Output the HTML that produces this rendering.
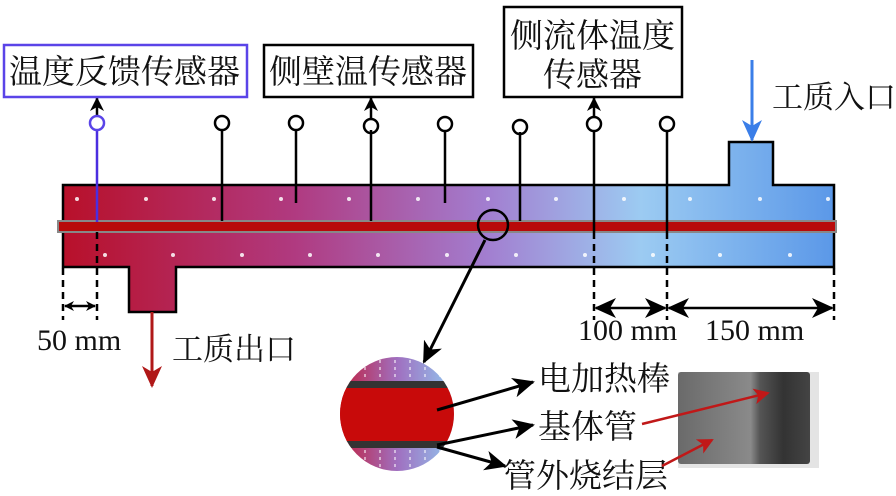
<!DOCTYPE html>
<html><head><meta charset="utf-8"><style>
html,body{margin:0;padding:0;background:#fff;}
svg{display:block;}
text{font-family:"Liberation Serif","Noto Serif CJK SC","Noto Sans CJK SC",serif;fill:#111;}
</style></head><body>
<svg width="896" height="496" viewBox="0 0 896 496" xmlns="http://www.w3.org/2000/svg">
<defs>
<linearGradient id="g" x1="63" y1="0" x2="834" y2="0" gradientUnits="userSpaceOnUse">
<stop offset="0" stop-color="#b8102a"/>
<stop offset="0.3" stop-color="#b03a80"/>
<stop offset="0.55" stop-color="#a27ed0"/>
<stop offset="0.75" stop-color="#9ccbf2"/>
<stop offset="1" stop-color="#5b98e8"/>
</linearGradient>
<linearGradient id="cg" x1="340" y1="0" x2="455" y2="0" gradientUnits="userSpaceOnUse">
<stop offset="0" stop-color="#c02040"/><stop offset="0.5" stop-color="#a070c0"/><stop offset="1" stop-color="#90c8f0"/>
</linearGradient>
<linearGradient id="ph" x1="0" y1="0" x2="1" y2="0">
<stop offset="0" stop-color="#6a6a6a"/><stop offset="0.55" stop-color="#8a8a8a"/><stop offset="0.62" stop-color="#555"/><stop offset="0.8" stop-color="#333"/><stop offset="1" stop-color="#444"/>
</linearGradient>
<marker id="ab" markerWidth="10" markerHeight="10" refX="9" refY="5" orient="auto" markerUnits="userSpaceOnUse"><path d="M0,0 L10,5 L0,10 L3,5z" fill="#000"/></marker>
<marker id="am" markerWidth="14" markerHeight="14" refX="13" refY="7" orient="auto" markerUnits="userSpaceOnUse"><path d="M0,0 L14,7 L0,14 L4,7z" fill="#000"/></marker>
<marker id="abig" markerWidth="22" markerHeight="20" refX="20" refY="10" orient="auto" markerUnits="userSpaceOnUse"><path d="M0,0 L22,10 L0,20 L6,10z" fill="#000"/></marker>
<marker id="ar" markerWidth="22" markerHeight="20" refX="20" refY="10" orient="auto" markerUnits="userSpaceOnUse"><path d="M0,0 L22,10 L0,20 L6,10z" fill="#b01818"/></marker>
<marker id="abl" markerWidth="22" markerHeight="20" refX="20" refY="10" orient="auto" markerUnits="userSpaceOnUse"><path d="M0,0 L22,10 L0,20 L6,10z" fill="#3a7ee8"/></marker>
<marker id="arr" markerWidth="16" markerHeight="16" refX="14" refY="8" orient="auto" markerUnits="userSpaceOnUse"><path d="M0,0 L16,8 L0,16 L4,8z" fill="#c01818"/></marker>
</defs>

<path d="M63,185 L729,185 L729,142 L773,142 L773,185 L834,185 L834,267 L176,267 L176,312 L129,312 L129,267 L63,267 Z" fill="url(#g)" stroke="#000" stroke-width="2.5"/>
<g fill="#fff" opacity="0.85">
<circle cx="77" cy="199" r="2"/><circle cx="146" cy="199" r="2"/><circle cx="214" cy="199" r="2"/><circle cx="281" cy="199" r="2"/><circle cx="349" cy="199" r="2"/><circle cx="418" cy="199" r="2"/><circle cx="488" cy="199" r="2"/><circle cx="556" cy="199" r="2"/><circle cx="624" cy="199" r="2"/><circle cx="690" cy="199" r="2"/><circle cx="760" cy="199" r="2"/><circle cx="828" cy="199" r="2"/>
<circle cx="105" cy="255" r="2"/><circle cx="173" cy="255" r="2"/><circle cx="242" cy="255" r="2"/><circle cx="310" cy="255" r="2"/><circle cx="378" cy="255" r="2"/><circle cx="447" cy="255" r="2"/><circle cx="516" cy="255" r="2"/><circle cx="585" cy="255" r="2"/><circle cx="653" cy="255" r="2"/><circle cx="720" cy="255" r="2"/><circle cx="790" cy="255" r="2"/>
</g>
<rect x="58" y="221" width="778" height="11" fill="#b80a0a" stroke="#888" stroke-width="2"/>

<g stroke="#000" stroke-width="2.5" fill="none">
<line x1="222" y1="130" x2="222" y2="221"/>
<line x1="296" y1="130" x2="296" y2="203"/>
<line x1="371" y1="130" x2="371" y2="221"/>
<line x1="445" y1="130" x2="445" y2="203"/>
<line x1="520" y1="132" x2="520" y2="221"/>
<line x1="594" y1="130" x2="594" y2="232"/>
<line x1="667" y1="130" x2="667" y2="232"/>
<circle cx="222" cy="123" r="7"/><circle cx="296" cy="123" r="7"/><circle cx="371" cy="126" r="7"/><circle cx="445" cy="124" r="7"/><circle cx="520" cy="127" r="7"/><circle cx="594" cy="124" r="7"/><circle cx="667" cy="124" r="7"/>
<line x1="371" y1="118" x2="371" y2="98" marker-end="url(#am)"/>
<line x1="594" y1="117" x2="594" y2="98" marker-end="url(#am)"/>
<line x1="97" y1="117" x2="97" y2="98" marker-end="url(#am)"/>
</g>
<line x1="97" y1="130" x2="97" y2="222" stroke="#4a2ee0" stroke-width="2.5"/>
<circle cx="97" cy="123" r="7" fill="none" stroke="#5a44e8" stroke-width="2.5"/>

<g stroke="#000" stroke-width="2.5" stroke-dasharray="7,5">
<line x1="97" y1="232" x2="97" y2="320"/>
<line x1="63" y1="268" x2="63" y2="320"/>
<line x1="594" y1="232" x2="594" y2="320"/>
<line x1="667" y1="232" x2="667" y2="320"/>
<line x1="834" y1="268" x2="834" y2="320"/>
</g>
<g stroke="#000" stroke-width="2.5">
<line x1="80" y1="306" x2="65" y2="306" marker-end="url(#ab)"/><line x1="80" y1="306" x2="95" y2="306" marker-end="url(#ab)"/>
<line x1="630" y1="308" x2="596" y2="308" marker-end="url(#abig)"/><line x1="630" y1="308" x2="665" y2="308" marker-end="url(#abig)"/>
<line x1="750" y1="308" x2="669" y2="308" marker-end="url(#abig)"/><line x1="750" y1="308" x2="832" y2="308" marker-end="url(#abig)"/>
</g>

<line x1="752" y1="60" x2="752" y2="140" stroke="#3a7ee8" stroke-width="3" marker-end="url(#abl)"/>
<line x1="152" y1="312" x2="152" y2="386" stroke="#b01818" stroke-width="3" marker-end="url(#ar)"/>

<rect x="4" y="45" width="243" height="52" fill="#fff" stroke="#5a44e8" stroke-width="2.5"/>
<text x="9" y="83" font-size="33">温度反馈传感器</text>
<rect x="264" y="45" width="209" height="52" fill="#fff" stroke="#000" stroke-width="2.5"/>
<text x="269" y="83" font-size="33">侧壁温传感器</text>
<rect x="504" y="7" width="178" height="90" fill="#fff" stroke="#000" stroke-width="2.5"/>
<text x="510" y="47" font-size="33">侧流体温度</text>
<text x="543" y="86" font-size="33">传感器</text>
<text x="772" y="108" font-size="31">工质入口</text>
<text x="172" y="360" font-size="31">工质出口</text>
<text x="37" y="350" font-size="30">50 mm</text>
<text x="578" y="340" font-size="30">100 mm</text>
<text x="705" y="340" font-size="30">150 mm</text>

<circle cx="493" cy="225" r="15" fill="none" stroke="#000" stroke-width="2.5"/>
<line x1="485" y1="240" x2="424" y2="362" stroke="#000" stroke-width="3" marker-end="url(#abig)"/>
<clipPath id="cc"><circle cx="397" cy="414" r="57"/></clipPath>
<g clip-path="url(#cc)">
<rect x="338" y="355" width="120" height="120" fill="url(#cg)"/>
<g stroke="#fff" stroke-width="1.5" opacity="0.7" stroke-dasharray="3,4">
<line x1="350" y1="360" x2="350" y2="380"/><line x1="365" y1="360" x2="365" y2="380"/><line x1="380" y1="360" x2="380" y2="380"/><line x1="395" y1="360" x2="395" y2="380"/><line x1="410" y1="360" x2="410" y2="380"/><line x1="425" y1="360" x2="425" y2="380"/><line x1="440" y1="360" x2="440" y2="380"/>
<line x1="350" y1="450" x2="350" y2="470"/><line x1="365" y1="450" x2="365" y2="470"/><line x1="380" y1="450" x2="380" y2="470"/><line x1="395" y1="450" x2="395" y2="470"/><line x1="410" y1="450" x2="410" y2="470"/><line x1="425" y1="450" x2="425" y2="470"/><line x1="440" y1="450" x2="440" y2="470"/>
</g>
<rect x="338" y="381" width="120" height="7" fill="#333"/>
<rect x="338" y="388" width="120" height="53" fill="#c80a0a"/>
<rect x="338" y="441" width="120" height="7" fill="#333"/>
</g>
<g stroke="#000" stroke-width="3">
<line x1="437" y1="410" x2="533" y2="382" marker-end="url(#abig)"/>
<line x1="437" y1="445" x2="533" y2="425" marker-end="url(#abig)"/>
<line x1="437" y1="447" x2="505" y2="466" marker-end="url(#abig)"/>
</g>
<text x="538" y="390" font-size="33" font-family="Liberation Sans,'Noto Sans CJK SC',sans-serif">电加热棒</text>
<text x="538" y="438" font-size="33" font-family="Liberation Sans,'Noto Sans CJK SC',sans-serif">基体管</text>
<text x="503" y="487" font-size="33" font-family="Liberation Sans,'Noto Sans CJK SC',sans-serif">管外烧结层</text>

<rect x="678" y="372" width="141" height="96" fill="#e4e4e4"/>
<rect x="678" y="372" width="132" height="92" fill="url(#ph)" rx="3"/>
<line x1="642" y1="424" x2="768" y2="393" stroke="#c01818" stroke-width="2.5" marker-end="url(#arr)"/>
<line x1="662" y1="466" x2="712" y2="440" stroke="#c01818" stroke-width="2.5" marker-end="url(#arr)"/>
</svg>
</body></html>
